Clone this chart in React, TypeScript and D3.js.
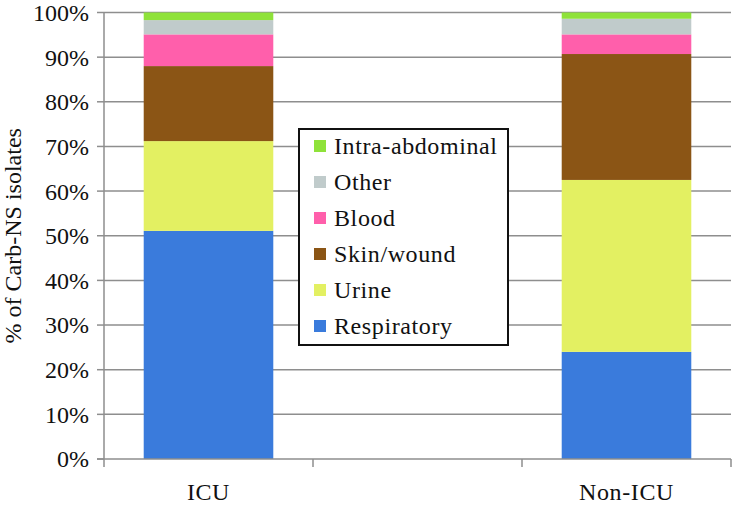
import React from "react";
import * as d3 from "d3";

const categories = ["ICU", "", "Non-ICU"];
const seriesNames = ["Respiratory", "Urine", "Skin/wound", "Blood", "Other", "Intra-abdominal"];
const respiratory = [51.1, null, 24.0];
const urine = [20.1, null, 38.5];
const skinWound = [16.8, null, 28.2];
const blood = [7.1, null, 4.4];
const other = [3.2, null, 3.5];
const intraAbdominal = [1.7, null, 1.4];
const seriesColors = ["#3A7BDC", "#E3F062", "#8B5515", "#FF5FAB", "#C0CBCB", "#8FE23A"];
const yTicks = [0, 10, 20, 30, 40, 50, 60, 70, 80, 90, 100];

const W = 732, H = 505;
const margin = { left: 104, right: 1, top: 12.5, bottom: 46 };
const textStyle = { fontFamily: "Liberation Serif, Times New Roman, serif" };

export default function App() {
  const values = [respiratory, urine, skinWound, blood, other, intraAbdominal];
  const table = categories.map((c, i) => {
    const row: any = { cat: c };
    seriesNames.forEach((s, j) => (row[s] = values[j][i] ?? 0));
    return row;
  });
  const stacked = d3.stack().keys(seriesNames)(table);

  const x = d3.scaleBand().domain(categories).range([margin.left, W - margin.right]).paddingInner(0).paddingOuter(0);
  const barW = x.bandwidth() * 0.62;
  const y = d3.scaleLinear().domain([0, 100]).range([H - margin.bottom, margin.top]);
  const x0 = margin.left, x1 = W - margin.right, y0 = y(0);
  const tickXs = [...categories.map((c) => x(c)!), x1];

  const legendItems = [...seriesNames].reverse();
  const legendColors = [...seriesColors].reverse();

  return (
    <svg width={W} height={H} style={{ position: "absolute", left: 0, top: 0, background: "#fff" }}>
      {yTicks.filter((t) => t > 0).map((t) => (
        <line key={t} x1={x0} x2={x1} y1={y(t)} y2={y(t)} stroke="#8E8E8E" strokeWidth={1.5} />
      ))}
      {stacked.map((layer, j) => (
        <g key={layer.key} fill={seriesColors[j]}>
          {layer.map((d, i) =>
            d[1] - d[0] > 0 ? (
              <rect key={i} x={x(categories[i])! + (x.bandwidth() - barW) / 2} width={barW} y={y(d[1])} height={y(d[0]) - y(d[1])} />
            ) : null
          )}
        </g>
      ))}
      <line x1={x0} x2={x0} y1={y(100)} y2={y0} stroke="#8E8E8E" strokeWidth={1.5} />
      {yTicks.map((t) => (
        <g key={t}>
          <line x1={x0 - 7} x2={x0} y1={y(t)} y2={y(t)} stroke="#8E8E8E" strokeWidth={1.5} />
          <text x={89} y={y(t)} dy="0.35em" textAnchor="end" fontSize={24} fill="#111" style={textStyle}>{t}%</text>
        </g>
      ))}
      <line x1={x0 - 7} x2={x1} y1={y0} y2={y0} stroke="#8E8E8E" strokeWidth={1.5} />
      {tickXs.map((tx, i) => (
        <line key={i} x1={tx} x2={tx} y1={y0} y2={y0 + 8} stroke="#8E8E8E" strokeWidth={1.5} />
      ))}
      {categories.map((c) => (
        <text key={c} x={x(c)! + x.bandwidth() / 2} y={500} textAnchor="middle" fontSize={24} letterSpacing={0.6} fill="#111" style={textStyle}>{c}</text>
      ))}
      <text transform={`translate(21,${(y(0) + y(100)) / 2}) rotate(-90)`} textAnchor="middle" fontSize={24} fill="#111" style={textStyle}>% of Carb-NS isolates</text>
      <rect x={299} y={129} width={209} height={216} fill="#fff" stroke="#111" strokeWidth={2} />
      {legendItems.map((s, i) => (
        <g key={s} transform={`translate(314,${146 + i * 36})`}>
          <rect x={0} y={-6} width={12} height={12} fill={legendColors[i]} />
          <text x={20} y={0} dy="0.35em" fontSize={24} letterSpacing={0.6} fill="#111" style={textStyle}>{s}</text>
        </g>
      ))}
    </svg>
  );
}
